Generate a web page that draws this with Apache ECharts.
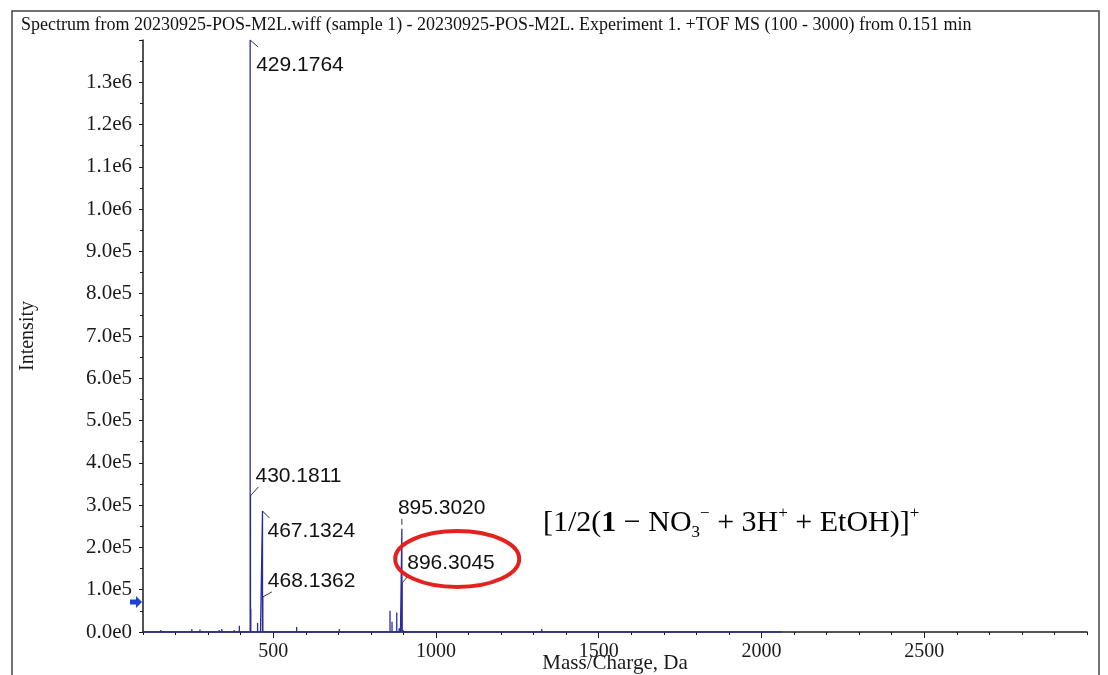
<!DOCTYPE html>
<html>
<head>
<meta charset="utf-8">
<title>TOF MS spectrum</title>
<script src="https://cdn.jsdelivr.net/npm/echarts@6/dist/echarts.min.js"></script>
<style>
  html, body { margin: 0; padding: 0; background: #fff; }
  #chart { width: 1108px; height: 675px; }
</style>
</head>
<body>
<div id="chart"></div>
<script>
// Labelled peaks: m/z and intensity (counts)
const peakMz = [429.1764, 430.1811, 467.1324, 468.1362, 895.3020, 896.3045];
const peakIntensity = [1400000, 322000, 286000, 83000, 244000, 116000];
const peakLabels = ['429.1764', '430.1811', '467.1324', '468.1362', '895.3020', '896.3045'];

// Unlabelled minor peaks
const minorMz = [115, 155, 250, 275, 280, 306, 321, 334, 342, 372, 380, 396, 431.18, 452, 461,
  485, 557, 572, 628, 659, 670, 703, 714, 736, 777, 858.8, 865, 879.5, 887, 891, 899, 910,
  920, 930, 941, 1002, 1053, 1110, 1192, 1289, 1325];
const minorIntensity = [4000, 5000, 7000, 6000, 3000, 3000, 3500, 5000, 7000, 3500, 5000, 15000, 55000, 21000, 5000,
  3500, 3500, 12000, 4000, 4000, 3000, 7000, 3000, 3000, 2500, 50000, 24000, 46000, 9000, 6000, 5000, 3500,
  3500, 3000, 2500, 4000, 4000, 3000, 2500, 4000, 7000];

// Acquired m/z range of the profile and axis ranges
const scanRange = [100, 2060];
const xRange = [100, 3000];
const yRange = [0, 1400000];
const xTickLabels = [500, 1000, 1500, 2000, 2500];
const thresholdIntensity = 71000;

const titleText = 'Spectrum from 20230925-POS-M2L.wiff (sample 1) - 20230925-POS-M2L. Experiment 1. +TOF MS (100 - 3000) from 0.151 min';

// Stick peaks joined along the baseline into one trace
const sticks = peakMz.map((m, i) => [m, peakIntensity[i]])
  .concat(minorMz.map((m, i) => [m, minorIntensity[i]]))
  .sort((a, b) => a[0] - b[0]);
const trace = [[scanRange[0], 0]];
sticks.forEach(([m, h]) => { trace.push([m, 0], [m, h], [m, 0]); });
trace.push([scanRange[1], 0]);

// Leader segment [x1, y1, x2, y2] and text anchor [dx, dy], relative to each peak apex
const labelLayout = [
  { lead: [0, 0, 8, 7],    text: [6, 25] },
  { lead: [0, 0, 8, -9],   text: [5, -20] },
  { lead: [0, 0, 7, 7],    text: [5, 20] },
  { lead: [0, 0, 9, -5],   text: [5, -16] },
  { lead: [0, -10, 0, -4], text: [-4, -21] },
  { lead: [0, 0, 5, -6],   text: [5, -20] }
];

const serif = '"Liberation Serif", "Times New Roman", serif';
const sans = '"Liberation Sans", Arial, sans-serif';
const ink = '#1a1a1a';
const traceColor = '#2a2a9e';

function sciLabel(v) {
  v = Math.round(v);
  if (v === 0) return '0.0e0';
  const e = Math.floor(Math.log10(v) + 1e-9);
  return (v / Math.pow(10, e)).toFixed(1) + 'e' + e;
}

const chart = echarts.init(document.getElementById('chart'), null, { renderer: 'canvas' });

chart.setOption({
  animation: false,
  backgroundColor: '#fff',
  title: {
    text: titleText,
    left: 16, top: 11,
    textStyle: { fontFamily: serif, fontSize: 18, fontWeight: 'normal', color: '#111' }
  },
  grid: { left: 143, right: 21, top: 40, bottom: 43, outerBoundsMode: 'none', containLabel: false },
  xAxis: [{
    type: 'value', min: xRange[0], max: xRange[1], interval: 100,
    axisLine: { show: true, onZero: false, lineStyle: { color: ink, width: 1.5 } },
    axisTick: { show: true, length: 3, lineStyle: { color: ink } },
    axisLabel: { show: false },
    splitLine: { show: false },
    name: 'Mass/Charge, Da', nameLocation: 'middle', nameGap: 21,
    nameTextStyle: { fontFamily: serif, fontSize: 21, color: ink }
  }, {
    type: 'value', min: xRange[0], max: xRange[1], position: 'bottom', offset: 0,
    axisLine: { show: false },
    axisTick: { show: true, length: 6, customValues: xTickLabels, lineStyle: { color: ink } },
    axisLabel: {
      customValues: xTickLabels, margin: 10, formatter: v => String(v),
      fontFamily: serif, fontSize: 20, color: ink
    },
    splitLine: { show: false }
  }],
  yAxis: {
    type: 'value', min: yRange[0], max: yRange[1], interval: 100000,
    axisLine: { show: true, lineStyle: { color: ink, width: 1.5 } },
    axisTick: { show: true, length: 4, lineStyle: { color: ink } },
    minorTick: { show: true, splitNumber: 2, length: 3, lineStyle: { color: ink } },
    axisLabel: { showMaxLabel: false, margin: 11, formatter: sciLabel, fontFamily: serif, fontSize: 21, color: ink },
    splitLine: { show: false },
    name: 'Intensity', nameLocation: 'middle', nameGap: 105, nameRotate: 90,
    nameTextStyle: { fontFamily: serif, fontSize: 20, color: ink }
  },
  series: [{
    type: 'line',
    data: trace,
    showSymbol: false,
    lineStyle: { color: traceColor, width: 1.3 },
    z: 3
  }, {
    type: 'custom',
    data: peakMz.map((m, i) => [m, peakIntensity[i]]),
    z: 4,
    renderItem: function (params, api) {
      const i = params.dataIndex;
      const p = api.coord([api.value(0), api.value(1)]);
      const L = labelLayout[i];
      return {
        type: 'group',
        children: [{
          type: 'line',
          shape: { x1: p[0] + L.lead[0], y1: p[1] + L.lead[1], x2: p[0] + L.lead[2], y2: p[1] + L.lead[3] },
          style: { stroke: '#333', lineWidth: 1 }
        }, {
          type: 'text',
          x: p[0] + L.text[0], y: p[1] + L.text[1],
          style: {
            text: peakLabels[i], fontFamily: sans, fontSize: 21, fill: '#111',
            align: 'left', verticalAlign: 'middle'
          }
        }]
      };
    }
  }]
});

// Threshold arrow on the intensity axis and the highlight round the 896.3045 label
const arrowTip = chart.convertToPixel({ xAxisIndex: 0, yAxisIndex: 0 }, [xRange[0], thresholdIntensity]);
const hl = chart.convertToPixel({ xAxisIndex: 0, yAxisIndex: 0 }, [peakMz[5], peakIntensity[5]]);

chart.setOption({
  graphic: [{
    type: 'rect',
    shape: { x: 12, y: 11, width: 1087, height: 700 },
    style: { fill: 'none', stroke: '#444', lineWidth: 1.5 },
    silent: true
  }, {
    type: 'polygon',
    shape: {
      points: [
        [arrowTip[0] - 13, arrowTip[1] - 2.5], [arrowTip[0] - 7, arrowTip[1] - 2.5],
        [arrowTip[0] - 7, arrowTip[1] - 6], [arrowTip[0] - 1, arrowTip[1]],
        [arrowTip[0] - 7, arrowTip[1] + 6], [arrowTip[0] - 7, arrowTip[1] + 2.5],
        [arrowTip[0] - 13, arrowTip[1] + 2.5]
      ]
    },
    style: { fill: '#1d3fd6' },
    z: 10
  }, {
    type: 'ellipse',
    shape: { cx: hl[0] + 55, cy: hl[1] - 24, rx: 62, ry: 28 },
    style: { fill: 'none', stroke: '#e3221f', lineWidth: 4 },
    z: 10
  }, {
    type: 'text',
    left: 543, top: 505,
    style: {
      text: '[1/2({b|1} − NO{sub|3}{sup|−} + 3H{sup|+} + EtOH)]{sup|+}',
      fontFamily: serif, fontSize: 30, fill: '#000', lineHeight: 36,
      rich: {
        b: { fontFamily: serif, fontSize: 30, fontWeight: 'bold', lineHeight: 36 },
        sub: { fontFamily: serif, fontSize: 17, verticalAlign: 'bottom', lineHeight: 16 },
        sup: { fontFamily: serif, fontSize: 17, verticalAlign: 'top', lineHeight: 16 }
      }
    },
    z: 10
  }]
});
</script>
</body>
</html>
